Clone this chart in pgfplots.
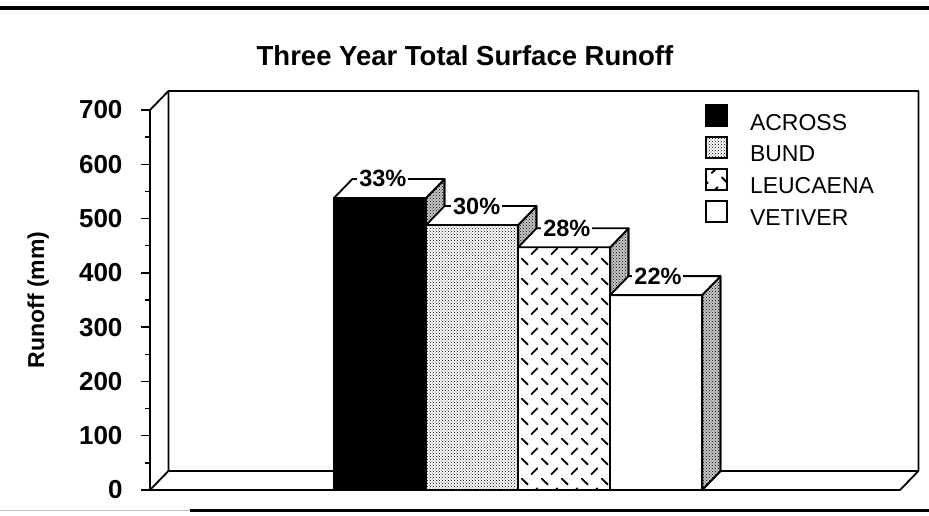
\documentclass[border=0pt]{standalone}
\usepackage{pgfplots}
\pgfplotsset{compat=1.18}
\usepackage{fontspec}
\setmainfont{Liberation Sans}
\usetikzlibrary{patterns}
\pgfdeclarepatternformonly{leuc}{\pgfpointorigin}{\pgfpoint{20pt}{20pt}}{\pgfpoint{20pt}{20pt}}{%
  \pgfsetlinewidth{2pt}\pgfsetroundcap
  \pgfpathmoveto{\pgfpoint{2pt}{18pt}}\pgfpathlineto{\pgfpoint{8pt}{12pt}}%
  \pgfpathmoveto{\pgfpoint{12pt}{2pt}}\pgfpathlineto{\pgfpoint{18pt}{8pt}}%
  \pgfusepath{stroke}}
\pgfplotsset{
  sqleg/.style={legend image code/.code={\draw[##1, line width=1.8pt] (0pt,-2pt) rectangle (21pt,19pt);}},
  face/.style={forget plot, draw=black, line width=1.8pt, line join=round},
  side/.style={face, fill=gray!45, postaction={pattern=crosshatch dots}},
  topf/.style={face, fill=white},
  bar/.style={ybar, bar width=1, bar shift=0pt, draw=black, line width=1.8pt, sqleg},
}
\newcommand{\pct}[3]{\node[fill=white, inner sep=2pt, text height=16pt, text depth=0pt, anchor=center,
  font=\fontsize{23.5}{23.5}\selectfont\bfseries] at (axis cs:#1,#2) {#3};}
\begin{document}
\begin{tikzpicture}
\path[use as bounding box] (0,0) rectangle (929pt,515pt);
\draw[line width=4pt] (0,507pt) -- (929pt,507pt);
\draw[line width=1pt, gray!45] (0,5pt) -- (190pt,5pt);
\draw[line width=3pt] (190pt,5pt) -- (929pt,5pt);
\begin{axis}[
  at={(150pt,25pt)}, anchor=south west,
  scale only axis, width=750pt, height=380pt,
  xmin=0, xmax=8.15, ymin=0, ymax=700,
  clip=false,
  axis x line*=bottom, axis y line*=left,
  axis line style={line width=1.8pt},
  xtick=\empty,
  ytick={0,100,...,700},
  minor y tick num=1,
  tick align=outside,
  major tick length=9pt, minor tick length=5pt,
  every tick/.style={black, line width=1.5pt},
  /pgf/number format/assume math mode=true,
  yticklabel style={font=\fontsize{26}{26}\selectfont\bfseries, xshift=-15pt},
  ylabel={Runoff (mm)},
  ylabel style={font=\fontsize{23}{23}\selectfont\bfseries, at={(axis description cs:-0.149,0.5)}, anchor=center},
  title={Three Year Total Surface Runoff},
  title style={font=\fontsize{27.5}{27.5}\selectfont\bfseries, at={(axis description cs:0.42,1.126)}, anchor=center},
  legend style={at={(axis description cs:0.74,1.016)}, anchor=north west, draw=none, fill=none,
    inner sep=0pt, row sep=2pt, column sep=22pt,
    font=\fontsize{23}{23}\selectfont,
    nodes={inner sep=0pt, text height=16pt, text depth=4pt}},
  legend cell align=left,
]
% frame (back wall, floor)
\addplot[face] coordinates {(0,700) (0.2,735) (8.35,735) (8.35,35) (0.2,35) (0.2,735)};
\addplot[face] coordinates {(0,0) (0.2,35)};
\addplot[face] coordinates {(8.15,0) (8.35,35)};
% ACROSS
\addplot[bar, fill=black] coordinates {(2.5,538)};
\addlegendentry{ACROSS}
\addplot[side] coordinates {(3,0) (3.2,35) (3.2,573) (3,538)} -- cycle;
\addplot[topf] coordinates {(2,538) (2.2,573) (3.2,573) (3,538)} -- cycle;
\pct{2.53}{573}{33\%}
% BUND
\addplot[bar, fill=white, postaction={pattern=crosshatch dots}] coordinates {(3.5,488)};
\addlegendentry{BUND}
\addplot[side] coordinates {(4,0) (4.2,35) (4.2,523) (4,488)} -- cycle;
\addplot[topf] coordinates {(3,488) (3.2,523) (4.2,523) (4,488)} -- cycle;
\pct{3.55}{523}{30\%}
% LEUCAENA
\addplot[bar, fill=white, postaction={pattern=leuc}] coordinates {(4.5,447)};
\addlegendentry{LEUCAENA}
\addplot[side] coordinates {(5,0) (5.2,35) (5.2,482) (5,447)} -- cycle;
\addplot[topf] coordinates {(4,447) (4.2,482) (5.2,482) (5,447)} -- cycle;
\pct{4.53}{482}{28\%}
% VETIVER
\addplot[bar, fill=white] coordinates {(5.5,359)};
\addlegendentry{VETIVER}
\addplot[side] coordinates {(6,0) (6.2,35) (6.2,394) (6,359)} -- cycle;
\addplot[topf] coordinates {(5,359) (5.2,394) (6.2,394) (6,359)} -- cycle;
\pct{5.52}{394}{22\%}
\end{axis}
\end{tikzpicture}
\end{document}
